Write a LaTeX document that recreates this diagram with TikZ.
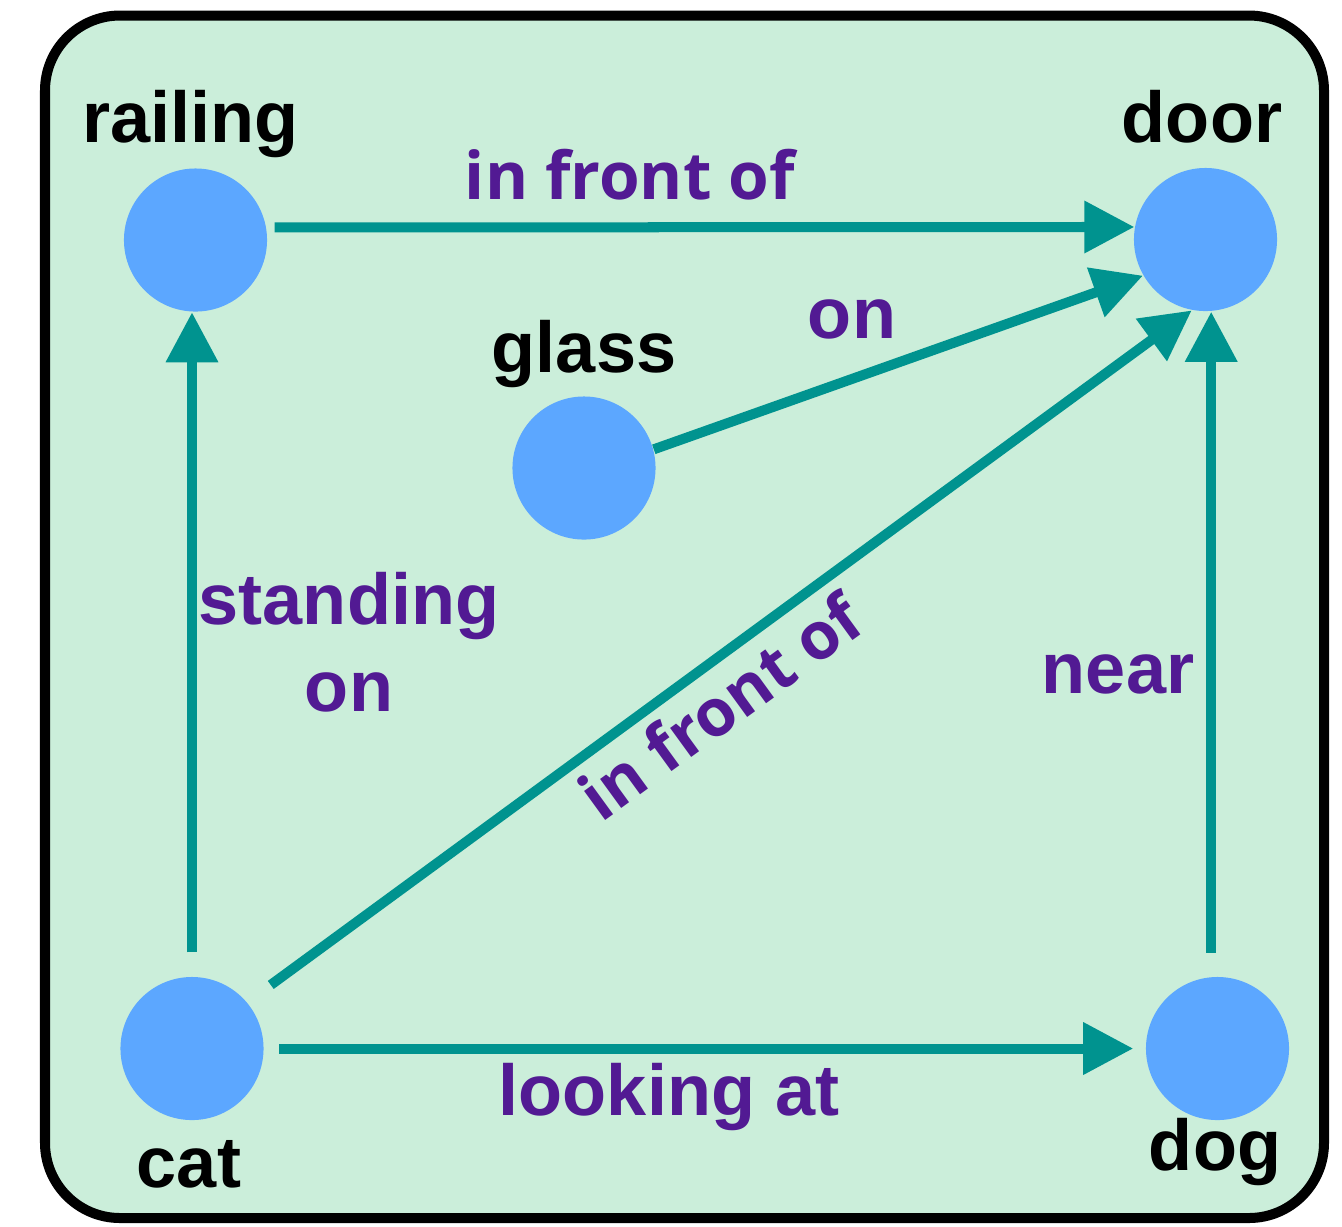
\documentclass[tikz,border=0pt]{standalone}
\usepackage{fontspec}
\setmainfont{Liberation Sans}
\newfontfamily\relfont{Open Sans}
\usetikzlibrary{arrows.meta}
\definecolor{panelgreen}{HTML}{CBEEDA}
\definecolor{dotblue}{HTML}{5CA7FF}
\definecolor{edgeteal}{HTML}{00938F}
\definecolor{relpurple}{HTML}{521A93}

\begin{document}
\begin{tikzpicture}[x=0.01cm, y=-0.01cm,
  dot/.style={circle, fill=dotblue, minimum size=1.43cm, inner sep=0pt},
  arr/.style={-{Triangle[length=0.5cm, width=0.5cm]}, line width=0.1cm, draw=edgeteal},
  obj/.style={anchor=base, font=\fontsize{20.5}{24.7}\selectfont\bfseries},
  rel/.style={anchor=base, text=relpurple, font=\fontsize{20.5}{24.7}\selectfont\bfseries},
  relh/.style={rel, font=\fontsize{18.7}{22}\selectfont\relfont\bfseries}
]
  \useasboundingbox (0,0) rectangle (1342,1226);
  \draw[line width=0.1cm, fill=panelgreen, rounded corners=0.75cm] (45,15.5) rectangle (1324,1218);

  \node[dot] (railing) at (195.5,240)    {};
  \node[dot] (door)    at (1205.5,239.5) {};
  \node[dot] (glass)   at (584,468)      {};
  \node[dot] (cat)     at (192,1048.5)   {};
  \node[dot] (dog)     at (1217.5,1048.5){};

  \node[obj] (railingname) at (190.5,142) {railing};
  \node[obj] (doorname)    at (1202,142)  {door};
  \node[obj] (glassname)   at (584,372)   {glass};
  \node[obj] (catname)     at (189,1187)  {cat};
  \node[obj] (dogname)     at (1215,1170) {dog};

  \draw[arr, shorten <=0.08cm] (railing.10) -- (door.170);
  \draw[arr] (glass.15) -- (door.210);
  \draw[arr, shorten <=0.29cm] (cat.40) -- (door.259);
  \draw[arr, shorten <=0.24cm] (cat.north) -- (railing.south -| cat.north);
  \draw[arr, shorten <=0.24cm] (dog.95) -- (door.south -| dog.95);
  \draw[arr, shorten <=0.15cm, shorten >=0.12cm] (cat.east) -- (dog.west);

  \node[relh] (fronttop)  at (630,199)  {in front of};
  \node[rel]  (ontop)     at (852,338)  {on};
  \node[rel, anchor=center, align=center] (standing) at (349,642.5) {standing\\on};
  \node[rel]  (nearby)    at (1118,693) {near};
  \node[rel]  (looking)   at (669,1115) {looking at};
  \node[relh, rotate=36] (frontdiag) at (735,726) {in front of};
\end{tikzpicture}
\end{document}
